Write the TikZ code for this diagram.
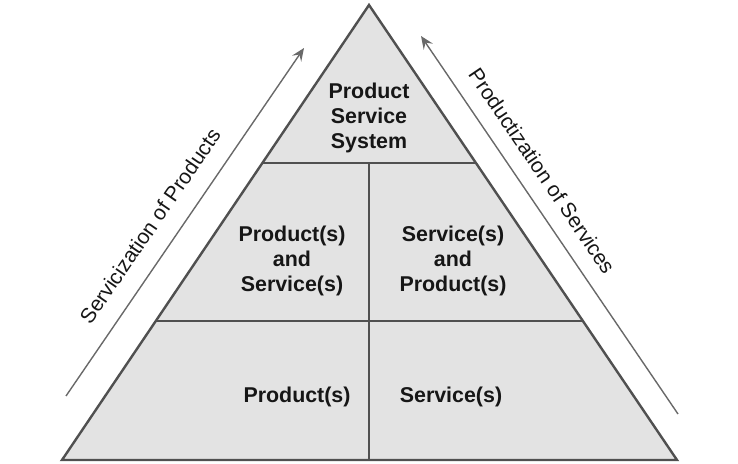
\documentclass[tikz,border=0pt]{standalone}
\usepackage{fontspec}
\setmainfont{Liberation Sans}
\usepackage{xcolor}
\usepackage{tikz}
\usetikzlibrary{calc,arrows.meta}
\definecolor{edgegrey}{RGB}{80,80,80}
\definecolor{pyrfill}{RGB}{227,227,227}
\definecolor{arrowgrey}{RGB}{105,105,105}
\definecolor{txtgrey}{RGB}{22,22,22}
\tikzset{
  pyr/.style  ={draw=edgegrey, fill=pyrfill, line width=2.4pt, line join=miter},
  sep/.style  ={draw=edgegrey, line width=2pt},
  cell/.style ={font=\bfseries\fontsize{21.4}{25}\selectfont, align=center,
                inner sep=0pt, text=txtgrey},
  side/.style ={font=\fontsize{21}{25}\selectfont, inner sep=0pt, text=txtgrey},
  ar/.style   ={-{Stealth[length=13pt,width=11pt,inset=5pt]}, draw=arrowgrey,
                line width=1.4pt},
}
\begin{document}
\begin{tikzpicture}[x=1pt,y=1pt]
\useasboundingbox (0,0) rectangle (738,463);
% ---------- pyramid ----------
\coordinate (apex) at (369,458);
\coordinate (bl) at (62,3);
\coordinate (br) at (677,3);
\draw[pyr] (apex) -- (bl) -- (br) -- cycle;

% ---------- dividers ----------
\coordinate (t1l) at ($(apex)!0.347!(bl)$);
\coordinate (t1r) at ($(apex)!0.347!(br)$);
\coordinate (t2l) at ($(apex)!0.6945!(bl)$);
\coordinate (t2r) at ($(apex)!0.6945!(br)$);
\coordinate (vtop) at (369,300);
\coordinate (vbot) at (369,3);
\draw[sep] (t1l) -- (t1r);
\draw[sep] (t2l) -- (t2r);
\draw[sep] (vtop) -- (vbot);

% ---------- cell texts ----------
\node[cell] (pss) at (369,345) {Product\\Service\\System};
\node[cell] (pands) at (292,202.5) {Product(s)\\and\\Service(s)};
\node[cell] (sandp) at (453,202.5) {Service(s)\\and\\Product(s)};
\node[cell] (prod) at (297,66.5) {Product(s)};
\node[cell] (serv) at (451,66.5) {Service(s)};

% ---------- side arrows ----------
\coordinate (servA) at (66,67);
\coordinate (servB) at (304,415);
\draw[ar] (servA) -- (servB);
\node[side,rotate=55.5] (servlbl) at (150,237) {Servicization of Products};

\coordinate (prodA) at (678,49);
\coordinate (prodB) at (421,427);
\draw[ar] (prodA) -- (prodB);
\node[side,rotate=-55.8] (prodlbl) at (542,292) {Productization of Services};
\end{tikzpicture}
\end{document}
